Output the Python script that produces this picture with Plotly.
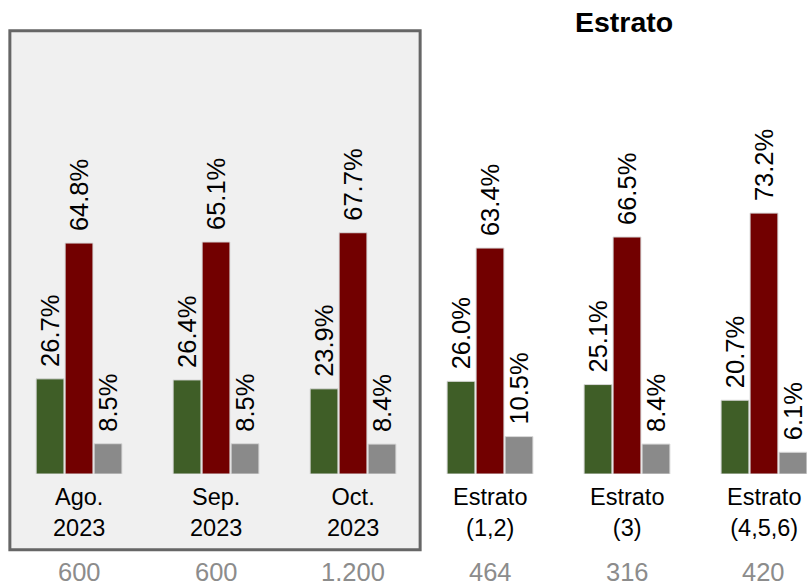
import plotly.graph_objects as go

categorias = ["Ago.<br>2023", "Sep.<br>2023", "Oct.<br>2023",
              "Estrato<br>(1,2)", "Estrato<br>(3)", "Estrato<br>(4,5,6)"]
verde = [26.7, 26.4, 23.9, 26.0, 25.1, 20.7]
rojo = [64.8, 65.1, 67.7, 63.4, 66.5, 73.2]
gris = [8.5, 8.5, 8.4, 10.5, 8.4, 6.1]
muestras = ["600", "600", "1.200", "464", "316", "420"]

colores = ["#3f5e27", "#720000", "#8a8a8a"]
series = [verde, rojo, gris]
FUENTE = "Liberation Sans, Arial, sans-serif"

x = list(range(len(categorias)))
ancho_grupo = 0.635
ancho_barra = ancho_grupo / 3

fig = go.Figure()
for vals, col in zip(series, colores):
    fig.add_trace(go.Bar(x=x, y=vals, marker=dict(color=col, line=dict(color="#d9d9d9", width=1)),
                         hoverinfo="skip"))

# recuadro gris de la serie mensual
fig.add_shape(type="rect", xref="x", yref="paper", x0=-0.505, x1=2.49, y0=-0.16, y1=0.935,
              fillcolor="#f0f0f0", line=dict(color="#666666", width=3), layer="below")

anns = []
for i, vals in enumerate(series):
    off = (i - 1) * ancho_barra
    for xi, v in zip(x, vals):
        anns.append(dict(x=xi + off, y=v, xref="x", yref="y", text=f"{v:.1f}%",
                         textangle=-90, showarrow=False, yanchor="bottom", yshift=10,
                         font=dict(size=25.5, color="black", family=FUENTE)))
for xi, c in zip(x, categorias):
    anns.append(dict(x=xi, y=-0.081, xref="x", yref="paper", text=c, showarrow=False,
                     yanchor="middle", font=dict(size=23.5, color="black", family=FUENTE)))
for xi, m in zip(x, muestras):
    anns.append(dict(x=xi, y=-0.207, xref="x", yref="paper", text=m, showarrow=False,
                     yanchor="middle", font=dict(size=25.5, color="#8c8c8c", family=FUENTE)))
anns.append(dict(x=3.98, y=0.954, xref="x", yref="paper", text="<b>Estrato</b>", showarrow=False,
                 yanchor="middle", font=dict(size=28.5, color="black", family=FUENTE)))

fig.update_layout(
    width=807, height=586,
    margin=dict(l=0, r=0, t=0, b=112),
    paper_bgcolor="white", plot_bgcolor="rgba(0,0,0,0)",
    barmode="group", bargap=1 - ancho_grupo, bargroupgap=0.04,
    showlegend=False,
    annotations=anns,
    xaxis=dict(range=[-0.577, 5.314], visible=False),
    yaxis=dict(range=[0, 133], visible=False),
)

fig.write_html("out.html", config={"displayModeBar": False},
               post_script="document.body.style.margin='0';")
